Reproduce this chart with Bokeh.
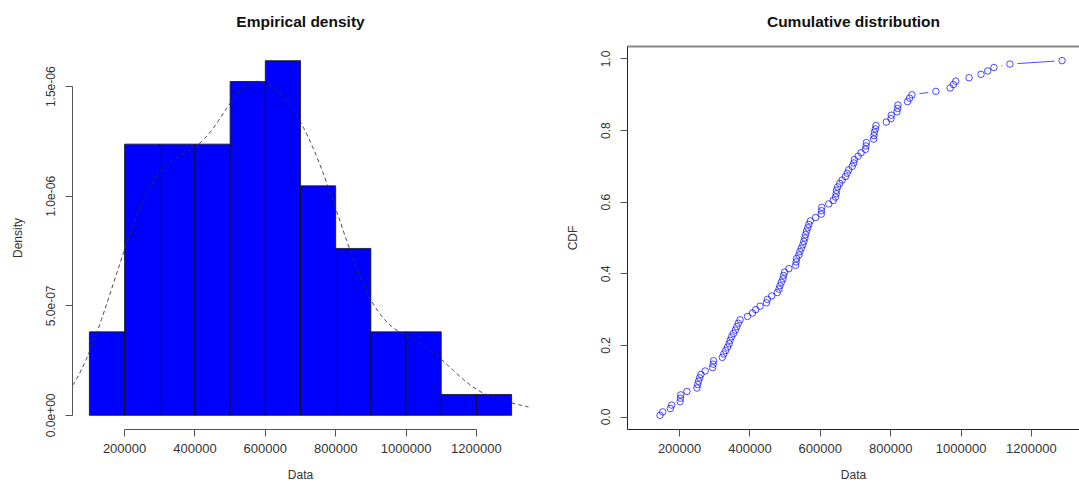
import numpy as np
from bokeh.plotting import figure
from bokeh.layouts import row
from bokeh.models import Range1d, FixedTicker, CustomJSTickFormatter, LinearAxis
from bokeh.embed import file_html
from bokeh.resources import INLINE

# ---------------- data ----------------
data = [144500, 152000, 173700, 177600,
        201500, 202500, 203500, 221000, 249300, 251300, 254100, 256900, 260600, 272800, 293800, 295500, 296600,
        321500, 325800, 330900, 336300, 340800, 343600, 347600, 353300, 358400, 362600, 366900, 372000, 392900,
        407100, 416400, 428600, 446800, 449600, 461800, 477900, 482400, 485300, 489200, 493800, 495500, 498600,
        510800, 529800, 531200, 532600, 539100, 541900, 545900, 550400, 553300, 556100, 558100, 561000, 564300,
        567400, 571700, 586400,
        602600, 603400, 604300, 624100, 636600, 643100, 645100, 645900, 649600, 655300, 662100, 671400, 676200,
        680800, 690400, 694900, 696900,
        707400, 715900, 728100, 730000, 730900, 751600, 752400, 753600, 756400, 758400, 787600,
        800900, 801700, 817900, 819600, 820700, 847900, 853600, 860400,
        928400, 968900, 978200, 985000,
        1022700, 1056700, 1075700, 1093500,
        1138900,
        1287000]
breaks = [100000, 200000, 300000, 400000, 500000, 600000, 700000,
          800000, 900000, 1000000, 1100000, 1200000, 1300000]
x_ticks = [200000, 400000, 600000, 800000, 1000000, 1200000]
dens_ticks = [0.0, 5e-7, 1e-6, 1.5e-6]
cdf_ticks = [0.0, 0.2, 0.4, 0.6, 0.8, 1.0]
titles = ["Empirical density", "Cumulative distribution"]

FONT = "Liberation Sans"
TXT = "#333333"

x = np.sort(np.array(data, dtype=float))
n = len(x)
counts, edges = np.histogram(x, bins=np.array(breaks, dtype=float))
dens = counts / (n * np.diff(edges))

# Gaussian KDE with R's bw.nrd0
sd = x.std(ddof=1)
iqr = np.subtract(*np.percentile(x, [75, 25]))
bw = 0.9 * min(sd, iqr / 1.34) * n ** (-0.2)
gx = np.linspace(x.min() - 3 * bw, x.max() + 3 * bw, 512)
gy = np.exp(-0.5 * ((gx[:, None] - x[None, :]) / bw) ** 2).sum(axis=1) / (n * bw * np.sqrt(2 * np.pi))

# ECDF plotting positions
cdf = (np.arange(1, n + 1) - 0.5) / n

# ---------------- layout ----------------
FW, FH = 456, 383
FW2 = 452
TOP = 46
x0, x1 = breaks[0] - 0.04 * (breaks[-1] - breaks[0]), breaks[-1] + 0.04 * (breaks[-1] - breaks[0])
x1_vis = x0 + (x1 - x0) * FW2 / FW
ymax = dens.max()
cy0, cy1 = cdf.min() - 0.04 * (cdf.max() - cdf.min()), cdf.max() + 0.04 * (cdf.max() - cdf.min())

exp_fmt = CustomJSTickFormatter(code="""
const s = tick.toExponential(1); const parts = s.split('e');
const e = parseInt(parts[1]); const sign = e < 0 ? '-' : '+'; const d = Math.abs(e);
return parts[0] + 'e' + sign + (d < 10 ? '0' : '') + d;""")
int_fmt = CustomJSTickFormatter(code="return tick.toFixed(0);")
one_fmt = CustomJSTickFormatter(code="return tick.toFixed(1);")


def style_axis(ax, ticks, fmt, vertical=False, line_color="#555555"):
    ax.ticker = FixedTicker(ticks=ticks)
    ax.formatter = fmt
    ax.major_label_text_font = FONT
    ax.major_label_text_color = TXT
    ax.axis_label_text_font = FONT
    ax.axis_label_text_font_style = "normal"
    ax.axis_label_text_color = TXT
    ax.axis_label_text_font_size = "12px"
    ax.major_tick_out = 7
    ax.major_tick_in = 0
    ax.minor_tick_out = 0
    ax.minor_tick_in = 0
    ax.axis_line_color = line_color
    ax.major_tick_line_color = "#555555"
    if vertical:
        ax.major_label_text_font_size = "12px"
        ax.major_label_orientation = "vertical"
        ax.major_label_standoff = 10
        ax.axis_label_standoff = 19
    else:
        ax.major_label_text_font_size = "13px"
        ax.major_label_standoff = 7
        ax.axis_label_standoff = 12


def title_axis(text, line_color, line_width):
    # a tick-less top axis whose label serves as the panel title
    return LinearAxis(ticker=FixedTicker(ticks=[]), major_label_text_font_size="0px",
                      major_tick_out=0, major_tick_in=0, minor_tick_out=0, minor_tick_in=0,
                      axis_line_color=line_color, axis_line_width=line_width,
                      major_label_standoff=0,
                      axis_label=text, axis_label_standoff=17,
                      axis_label_text_font=FONT, axis_label_text_font_size="15.5px",
                      axis_label_text_font_style="bold", axis_label_text_color="#111111")


# ---------------- left: empirical density ----------------
p1 = figure(frame_width=FW, frame_height=FH, output_backend="svg", toolbar_location=None,
            x_range=Range1d(x0, x1), y_range=Range1d(-0.04 * ymax, 1.04 * ymax),
            min_border_left=72, min_border_right=27, min_border_top=TOP, min_border_bottom=54)
p1.outline_line_color = None
p1.grid.visible = False

p1.quad(left=edges[:-1], right=edges[1:], bottom=0, top=dens,
        fill_color="#0000FF", line_color="#111111", line_width=0.8)
p1.line(gx, gy, line_color="#333333", line_width=0.9, line_dash="4 3")

bx1, ly1 = p1.below[0], p1.left[0]
style_axis(bx1, x_ticks, int_fmt)
bx1.bounds = (x_ticks[0], x_ticks[-1])
bx1.axis_label = "Data"
style_axis(ly1, dens_ticks, exp_fmt, vertical=True)
ly1.bounds = (dens_ticks[0], dens_ticks[-1])
ly1.axis_label = "Density"
p1.add_layout(title_axis(titles[0], None, 1), "above")

# ---------------- right: cumulative distribution ----------------
p2 = figure(frame_width=FW2, frame_height=FH, output_backend="svg", toolbar_location=None,
            x_range=Range1d(x0, x1_vis), y_range=Range1d(cy0, cy1),
            min_border_left=72, min_border_right=0, min_border_top=TOP, min_border_bottom=54)
p2.outline_line_color = None
p2.grid.visible = False

# R type="b": line segments with gaps around points
sx = FW2 / (x1_vis - x0)
sy = FH / (cy1 - cy0)
gap = 7.6
xs0, ys0, xs1, ys1 = [], [], [], []
for i in range(n - 1):
    dxp = (x[i + 1] - x[i]) * sx
    dyp = (cdf[i + 1] - cdf[i]) * sy
    d = np.hypot(dxp, dyp)
    if d > 2 * gap:
        ux, uy = dxp / d, dyp / d
        xs0.append(x[i] + gap * ux / sx)
        ys0.append(cdf[i] + gap * uy / sy)
        xs1.append(x[i + 1] - gap * ux / sx)
        ys1.append(cdf[i + 1] - gap * uy / sy)
p2.segment(xs0, ys0, xs1, ys1, line_color="#0000FF", line_alpha=0.7, line_width=1)
p2.scatter(x, cdf, marker="circle", size=6.5, fill_color=None, line_color="#0000FF",
           line_alpha=0.7, line_width=1)

bx2, ly2 = p2.below[0], p2.left[0]
style_axis(bx2, x_ticks, int_fmt, line_color="#222222")
bx2.axis_label = "Data"
style_axis(ly2, cdf_ticks, one_fmt, vertical=True, line_color="#222222")
ly2.axis_label = "CDF"
p2.add_layout(title_axis(titles[1], "#888888", 2), "above")

layout = row(p1, p2)
open("out.html", "w").write(file_html(layout, INLINE))
